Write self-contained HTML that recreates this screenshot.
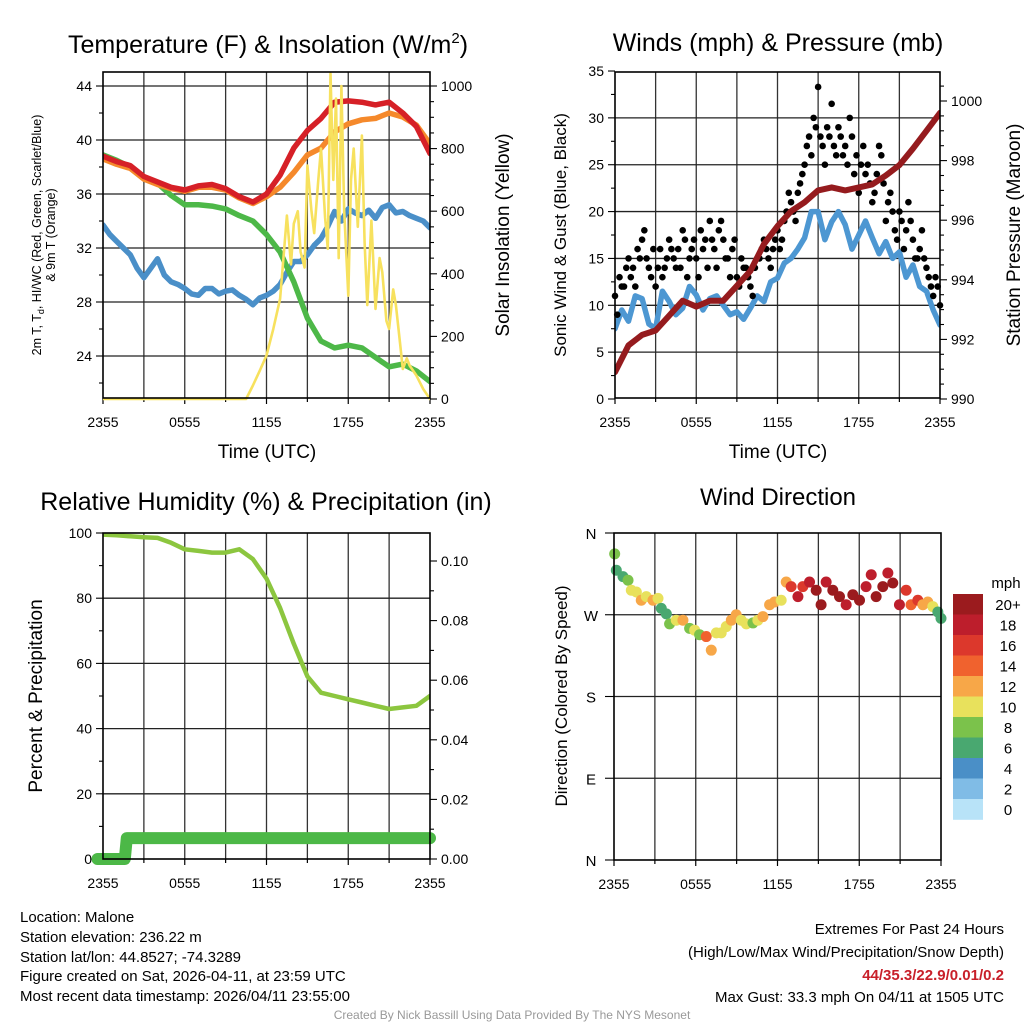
<!DOCTYPE html>
<html><head><meta charset="utf-8"><style>
html,body{margin:0;padding:0;background:#fff;}
svg{display:block;font-family:"Liberation Sans",Arial,sans-serif;}
</style></head><body>
<svg id="s" width="1024" height="1024" viewBox="0 0 1024 1024" xmlns="http://www.w3.org/2000/svg">
<rect width="1024" height="1024" fill="#fff"/>
<g id="g1"></g>
<g id="g2"></g>
<g id="g3"></g>
<g id="g4"></g>
<text x="268" y="53" font-size="25" text-anchor="middle">Temperature (F) &amp; Insolation (W/m<tspan dy="-10" font-size="15">2</tspan><tspan dy="10">)</tspan></text>
<text x="778" y="51" font-size="25" text-anchor="middle">Winds (mph) &amp; Pressure (mb)</text>
<text x="266" y="510" font-size="25" text-anchor="middle">Relative Humidity (%) &amp; Precipitation (in)</text>
<text x="778" y="505" font-size="24" text-anchor="middle">Wind Direction</text>
<text x="267" y="458" font-size="19" text-anchor="middle">Time (UTC)</text>
<text x="778" y="458" font-size="19" text-anchor="middle">Time (UTC)</text>
<text transform="translate(41,235) rotate(-90)" font-size="12.5" text-anchor="middle">2m T, T<tspan dy="3" font-size="9">d</tspan><tspan dy="-3">, HI/WC (Red, Green, Scarlet/Blue)</tspan></text>
<text transform="translate(55,235) rotate(-90)" font-size="12.5" text-anchor="middle">&amp; 9m T (Orange)</text>
<text transform="translate(509,235) rotate(-90)" font-size="19" text-anchor="middle">Solar Insolation (Yellow)</text>
<text transform="translate(566,235) rotate(-90)" font-size="17" text-anchor="middle">Sonic Wind &amp; Gust (Blue, Black)</text>
<text transform="translate(1020,235) rotate(-90)" font-size="19" text-anchor="middle">Station Pressure (Maroon)</text>
<text transform="translate(42,696) rotate(-90)" font-size="19" text-anchor="middle">Percent &amp; Precipitation</text>
<text transform="translate(567,696) rotate(-90)" font-size="17" text-anchor="middle">Direction (Colored By Speed)</text>
<g font-size="15">
<text x="20" y="922">Location: Malone</text>
<text x="20" y="942">Station elevation: 236.22 m</text>
<text x="20" y="962">Station lat/lon: 44.8527; -74.3289</text>
<text x="20" y="981">Figure created on Sat, 2026-04-11, at 23:59 UTC</text>
<text x="20" y="1001">Most recent data timestamp: 2026/04/11 23:55:00</text>
</g>
<g font-size="15" text-anchor="end">
<text x="1004" y="934">Extremes For Past 24 Hours</text>
<text x="1004" y="957">(High/Low/Max Wind/Precipitation/Snow Depth)</text>
<text x="1004" y="980" fill="#c8202a" font-weight="bold">44/35.3/22.9/0.01/0.2</text>
<text x="1004" y="1002">Max Gust: 33.3 mph On 04/11 at 1505 UTC</text>
</g>
<text x="512" y="1019" font-size="12" fill="#999" text-anchor="middle">Created By Nick Bassill Using Data Provided By The NYS Mesonet</text>
</svg>
<script>
// ---- data ----
const xTickLabels = ["2355","0555","1155","1755","2355"];
const tempTicks = [44,40,36,32,28,24];
const solarTicks = [1000,800,600,400,200,0];
const tempT = [38.8,38.4,38.1,37.3,36.9,36.5,36.3,36.6,36.7,36.4,35.8,35.4,36.0,37.4,39.4,40.7,41.6,42.8,42.9,42.8,42.6,42.8,42.0,41.0,39.0];
const temp9m = [38.6,38.2,37.9,37.1,36.7,36.4,36.2,36.5,36.5,36.3,35.7,35.3,35.8,36.5,37.6,38.9,39.4,40.6,41.2,41.5,41.6,42.0,41.7,41.1,39.7];
const dewpt = [38.9,38.5,38.0,37.2,36.8,35.9,35.2,35.2,35.1,34.9,34.4,34.0,33.0,31.7,29.5,26.8,25.1,24.6,24.8,24.6,23.9,23.2,23.4,22.9,22.1];
const windChill = [33.7,33.0,32.5,32.0,31.5,30.5,29.8,30.5,31.2,30.0,29.5,29.3,29.0,28.6,28.5,29.0,29.0,28.6,28.8,28.9,28.5,28.2,27.8,28.3,28.5,28.8,29.3,30.2,31.0,31.0,31.5,32.2,32.7,33.6,34.7,34.0,34.9,34.6,34.4,34.8,34.2,35.0,35.2,34.6,34.7,34.4,34.2,34.0,33.5];
const solarHours = [0,10.5,11,11.5,12,12.5,13,13.3,13.5,13.8,14,14.3,14.5,14.8,15,15.3,15.5,15.8,16,16.3,16.5,16.7,16.9,17.1,17.3,17.5,17.7,18,18.2,18.4,18.7,19,19.2,19.4,19.7,20,20.3,20.5,20.8,21,21.3,21.5,21.8,22,22.3,22.5,23,23.5,24];
const solarValues = [0,0,43,90,139,224,320,480,586,430,560,600,470,420,746,600,530,700,800,580,480,1040,700,960,450,1000,600,330,700,800,550,842,500,300,570,288,450,405,250,224,350,300,180,96,130,107,75,32,0];

const windTicks = [35,30,25,20,15,10,5,0];
const pressTicks = [1000,998,996,994,992,990];
const windSpeed = [7.5,9.5,8.3,11,10.7,8,7.5,11.5,10.4,9,9.7,12,11.1,9.5,10.7,11,10.0,9.0,9.3,8.5,9.7,11,10.4,12.5,12.9,14.5,15.0,16,17.2,20,20.0,17,18.9,20,18.6,16,17.5,19,17.2,15.5,16.8,15,15.7,13,14.3,12,11.5,9.5,7.9];
const windGust = [11,9,13,12,12,14,15,13,14,12,16,15,17,18,15,14,13,16,12,14,16,13,14,15,17,16,15,14,16,14,18,17,13,15,16,17,15,13,18,16,17,14,19,17,16,14,18,19,17,15,15,13,16,17,13,12,15,14,14,13,12,11,14,15,15,16,17,16,15,14,16,17,18,16,17,19,20,22,21,20,19,22,23,24,25,27,28,26,30,29,33.3,28,27,25,29,28,31.5,27,26,29,28,26,27,25,30,28,24,26,22,25,27,24,25,23,21,22,24,27,26,23,19,21,22,20,18,17,20,19,16,18,21,19,17,15,15,16,18,15,14,13,12,11,13,12,10];
const pressure = [990.9,991.8,992.15,992.3,992.8,993.3,993.1,993.3,993.3,993.8,994.3,995.2,995.8,996.3,996.6,997.0,997.1,997.0,997.1,997.2,997.5,997.85,998.4,999.0,999.6];

const rhTicks = [100,80,60,40,20,0];
const precipTicks = ["0.10","0.08","0.06","0.04","0.02","0.00"];
const relHum = [99.5,99.3,99,98.7,98.5,97,95,94.5,94,94,95,92,86,77,66,56,51,50,49,48,47,46,46.5,47,50];
const precipHours = [-0.4,1.6,1.75,24];
const precipValues = [0,0,0.007,0.007];

const dirLabels = ["N","W","S","E","N"];
const dirHours = [0.05,0.17,0.66,1.03,1.27,1.64,2.0,2.37,2.86,3.23,3.47,3.84,4.08,4.57,5.06,5.55,5.92,6.28,6.77,7.14,7.51,7.87,8.24,8.61,8.97,9.34,9.71,10.2,10.56,10.93,11.42,11.78,12.27,12.64,13.0,13.5,13.86,14.35,14.84,15.2,15.57,16.06,16.55,17.04,17.53,18.02,18.5,18.88,19.24,19.73,20.1,20.46,20.95,21.44,21.8,22.3,22.67,23.03,23.4,23.77,24];
const dirDegrees = [337,319,312,308,297,295,286,290,286,288,277,271,260,264,264,255,253,248,246,231,250,250,257,264,270,264,260,261,264,268,281,284,286,306,301,290,301,306,297,281,306,297,290,281,292,286,301,314,290,301,316,305,281,297,281,286,281,284,279,273,266];
const dirSpeeds = [8,6,7,8,10,10,12,10,12,10,6,7,8,10,12,8,10,8,15,13,10,10,10,12,12,10,10,8,10,12,13,12,11,13,17,18,16,19,20,21,19,20,21,19,20,21,19,18,20,21,19,20,18,16,15,16,13,12,10,7,7];
const speedBins = ["20+","18","16","14","12","10","8","6","4","2","0"];
const speedColors = ["#9b1b1e","#bd1e2c","#dc382c","#f0622e","#f7a748","#e8e15c","#7bc24b","#49a870","#4a8fc7","#80bce6","#b8e3f8"];

// ---- helpers ----
const NS="http://www.w3.org/2000/svg";
function mk(parent,tag,attrs){const e=document.createElementNS(NS,tag);for(const k in attrs)e.setAttribute(k,attrs[k]);parent.appendChild(e);return e;}
function txt(parent,x,y,s,size,anchor){const t=mk(parent,"text",{x:x,y:y,"font-size":size,"text-anchor":anchor});t.textContent=s;return t;}
function poly(pts){return pts.map(p=>p[0].toFixed(1)+","+p[1].toFixed(1)).join(" ");}

function frame(g,L,R,T,B,id){
  const defs=mk(g,"defs",{});
  const cp=mk(defs,"clipPath",{id:id});
  mk(cp,"rect",{x:L,y:T,width:R-L,height:B-T+3});
  for(let h=3;h<24;h+=3){const x=L+h*(R-L)/24;
    const l=mk(g,"line",{x1:x,y1:T,x2:x,y2:B,stroke:"#333","stroke-width":1.3});
    
    }
  for(let h=0;h<=24;h+=3){const x=L+h*(R-L)/24;mk(g,"line",{x1:x,y1:B,x2:x,y2:B+(h%6==0?6:4),stroke:"#000","stroke-width":1.2});}
  xTickLabels.forEach((s,i)=>{const t=txt(g,L+i*6*(R-L)/24,B+29,s,14,"middle");
    
    });
}
function hgrid(g,L,R,y){const l=mk(g,"line",{x1:L,y1:y,x2:R,y2:y,stroke:"#222","stroke-width":1.3});
  
  }
function box(g,L,R,T,B){const r=mk(g,"rect",{x:L,y:T,width:R-L,height:B-T,fill:"none",stroke:"#000","stroke-width":1.6});
  
  }
function leftTick(g,L,y,s,minor){mk(g,"line",{x1:L-(minor?4:7),y1:y,x2:L,y2:y,stroke:"#000","stroke-width":1.1});
  if(s!==null){const t=txt(g,L-11,y+5,s,14,"end");
    
    }}
function rightTick(g,R,y,s,minor){mk(g,"line",{x1:R,y1:y,x2:R+(minor?4:7),y2:y,stroke:"#000","stroke-width":1.1});
  if(s!==null){const t=txt(g,R+11,y+5,s,14,"start");
    
    }}
function line(g,pts,color,w,name,clip){const p=mk(g,"polyline",{points:poly(pts),fill:"none",stroke:color,"stroke-width":w,"stroke-linejoin":"round","stroke-linecap":"round","clip-path":"url(#"+clip+")"});
  
  return p;}

// ---- panel 1 ----
(function(){
  const g=document.getElementById("g1"),L=103,R=430,T=72,B=398;
  const x=h=>L+h*(R-L)/24, yT=t=>86+(44-t)*13.5, yS=w=>399-w*0.313;
  frame(g,L,R,T,B,"c1");
  tempTicks.forEach(t=>{hgrid(g,L,R,yT(t));leftTick(g,L,yT(t),String(t),false);if(t<44)leftTick(g,L,yT(t+2),null,true);});
  leftTick(g,L,yT(22),null,true);
  solarTicks.forEach(w=>{rightTick(g,R,yS(w),String(w),false);if(w<1000){rightTick(g,R,yS(w+50),null,true);rightTick(g,R,yS(w+100),null,true);rightTick(g,R,yS(w+150),null,true);}});
  line(g,windChill.map((v,i)=>[x(i/2),yT(v)]),"#4a8fc8",5.5,"wind-chill-line","c1");
  line(g,dewpt.map((v,i)=>[x(i),yT(v)]),"#4db848",5.5,"dewpoint-line","c1");
  line(g,temp9m.map((v,i)=>[x(i),yT(v)]),"#f5892b",5.5,"temp-9m-line","c1");
  line(g,tempT.map((v,i)=>[x(i),yT(v)]),"#d62027",5.5,"temp-2m-line","c1");
  line(g,solarValues.map((v,i)=>[x(solarHours[i]),yS(v)]),"#f7e15e",2.6,"solar-insolation-line","c1");
  box(g,L,R,T,B);
})();

// ---- panel 2 ----
(function(){
  const g=document.getElementById("g2"),L=615,R=940,T=72,B=398;
  const x=h=>L+h*(R-L)/24, yW=w=>399-w*9.371, yP=p=>399-(p-990)*29.8;
  frame(g,L,R,T,B,"c2");
  windTicks.forEach(w=>{if(w>0&&w<35)hgrid(g,L,R,yW(w));leftTick(g,L,yW(w),String(w),false);if(w<35)leftTick(g,L,yW(w+2.5),null,true);});
  pressTicks.forEach(p=>{rightTick(g,R,yP(p),String(p),false);if(p<1000){rightTick(g,R,yP(p+0.5),null,true);rightTick(g,R,yP(p+1),null,true);rightTick(g,R,yP(p+1.5),null,true);}});
  rightTick(g,R,yP(1000.5),null,true);
  line(g,windSpeed.map((v,i)=>[x(i/2),yW(v)]),"#4d97d2",5.5,"sonic-wind-line","c2");
  windGust.forEach((v,i)=>{const c=mk(g,"circle",{cx:x(i/6),cy:yW(v),r:3.3,fill:"#000"});
    
    });
  line(g,pressure.map((v,i)=>[x(i),yP(v)]),"#951b1e",6,"pressure-line","c2");
  box(g,L,R,T,B);
})();

// ---- panel 3 ----
(function(){
  const g=document.getElementById("g3"),L=103,R=430,T=533,B=859;
  const x=h=>L+h*(R-L)/24, yR=r=>859-r*3.26, yP=p=>859-p*2980;
  frame(g,L,R,T,B,"c3");
  rhTicks.forEach(r=>{if(r>0&&r<100)hgrid(g,L,R,yR(r));leftTick(g,L,yR(r),String(r),false);if(r<100)leftTick(g,L,yR(r+10),null,true);});
  precipTicks.forEach((s,i)=>{const p=0.1-i*0.02;rightTick(g,R,yP(p),s,false);if(i>0)rightTick(g,R,yP(p+0.01),null,true);});
  line(g,relHum.map((v,i)=>[x(i),yR(v)]),"#8cc63f",4.5,"relative-humidity-line","c3");
  const p=mk(g,"polyline",{points:poly(precipValues.map((v,i)=>[x(precipHours[i]),yP(v)])),fill:"none",stroke:"#4cb847","stroke-width":12,"stroke-linecap":"round","stroke-linejoin":"round"});
  
  
  box(g,L,R,T,B);
})();

// ---- panel 4 ----
(function(){
  const g=document.getElementById("g4"),L=614,R=941,T=533,B=860;
  const x=h=>L+h*(R-L)/24, yD=d=>860-d*327/360;
  frame(g,L,R,T,B,"c4");
  dirLabels.forEach((s,i)=>{const y=yD(360-i*90);if(i>0&&i<4)hgrid(g,L,R,y);
    mk(g,"line",{x1:L-9,y1:y,x2:L,y2:y,stroke:"#000","stroke-width":1.1});
    const t=txt(g,L-23,y+6,s,15,"middle");
    
    });
  function colorFor(s){const idx=Math.min(10,Math.max(0,10-Math.floor(s/2)));return speedColors[idx];}
  dirDegrees.forEach((d,i)=>{const c=mk(g,"circle",{cx:x(dirHours[i]),cy:yD(d),r:5.5,fill:colorFor(dirSpeeds[i])});
    
    });
  box(g,L,R,T,B);
  const cb=mk(g,"g",{});
  
  
  txt(cb,1006,588,"mph",15,"middle");
  speedBins.forEach((s,i)=>{const y=594+i*20.5;
    const r=mk(cb,"rect",{x:953,y:y,width:30,height:20.8,fill:speedColors[i]});
    
    
    const t=txt(cb,1008,y+16,s,15,"middle");
    
    });
})();
</script>
</body></html>
